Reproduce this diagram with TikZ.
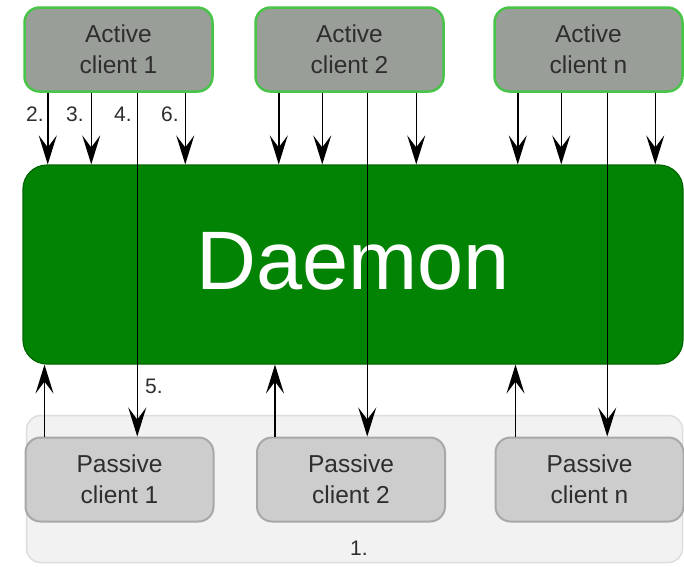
\documentclass[tikz,border=0pt]{standalone}
\usepackage{fontspec}
\setmainfont{Liberation Sans}
\usetikzlibrary{arrows.meta}
\definecolor{activefill}{HTML}{9A9E98}
\definecolor{activeedge}{HTML}{48C448}
\definecolor{daemonfill}{HTML}{038303}
\definecolor{daemonedge}{HTML}{006800}
\definecolor{passfill}{HTML}{CDCDCD}
\definecolor{passedge}{HTML}{A8A8A8}
\definecolor{bgfill}{HTML}{F2F2F2}
\definecolor{bgedge}{HTML}{DDDDDD}
\definecolor{txt}{HTML}{2E2E2E}
\begin{document}
\begin{tikzpicture}[x=1pt,y=-1pt,
  activebox/.style={draw=activeedge,line width=2.5pt,fill=activefill,rounded corners=15pt,
    minimum width=188pt,minimum height=84pt,inner sep=0pt,text=txt,
    font=\fontsize{24.5}{31}\selectfont,align=center},
  passbox/.style={draw=passedge,line width=2pt,fill=passfill,rounded corners=15pt,
    minimum width=188pt,minimum height=84pt,inner sep=0pt,text=txt,
    font=\fontsize{24.5}{31}\selectfont,align=center},
  daemonbox/.style={draw=daemonedge,line width=1.2pt,fill=daemonfill,rounded corners=24pt,
    minimum width=660pt,minimum height=199pt,inner sep=0pt,text=white,
    font=\fontsize{83}{90}\selectfont},
  bgbox/.style={draw=bgedge,line width=1.5pt,fill=bgfill,rounded corners=14pt,
    minimum width=656pt,minimum height=147pt,inner sep=0pt},
  numlabel/.style={text=txt,font=\fontsize{21}{24}\selectfont,inner sep=0pt},
  arr/.style={-{Stealth[length=29pt,width=18pt,inset=12pt]},line width=1.5pt,black},
]
\useasboundingbox (0,0) rectangle (684,566);
\fill[white] (0,0) rectangle (684,566);

\node[bgbox] (bg) at (354.5,489) {};
\node[passbox] (p1) at (119.5,479.5) {Passive\\client 1};
\node[passbox] (p2) at (351,479.5) {Passive\\client 2};
\node[passbox] (pn) at (589.5,479.5) {Passive\\client n};

\node[daemonbox] (d) at (353,264.5) {\raisebox{7pt}{Daemon}};

\node[activebox] (a1) at (118.5,49.5) {Active\\client 1};
\node[activebox] (a2) at (349.5,49.5) {Active\\client 2};
\node[activebox] (an) at (588.5,49.5) {Active\\client n};

% active -> daemon
\foreach \n in {a1,a2,an}{
  \foreach \o in {24.5,68,162}{
    \draw[arr] ([xshift=\o pt]\n.south west) -- ([xshift=\o pt]\n.south west |- d.north);
  }
}
% active -> passive (through daemon)
\draw[arr] ([xshift=114pt]a1.south west) -- ([xshift=114pt]a1.south west |- p1.north);
\draw[arr] ([xshift=113pt]a2.south west) -- ([xshift=113pt]a2.south west |- p2.north);
\draw[arr] ([xshift=114pt]an.south west) -- ([xshift=114pt]an.south west |- pn.north);
% passive -> daemon
\draw[arr] ([xshift=20pt]p1.north west) -- ([xshift=20pt]p1.north west |- d.south);
\draw[arr] ([xshift=19pt]p2.north west) -- ([xshift=19pt]p2.north west |- d.south);
\draw[arr] ([xshift=21pt]pn.north west) -- ([xshift=21pt]pn.north west |- d.south);

\node[numlabel] (l2) at (35,114) {2.};
\node[numlabel] (l3) at (75,114) {3.};
\node[numlabel] (l4) at (123,114) {4.};
\node[numlabel] (l6) at (170,114) {6.};
\node[numlabel] (l5) at (154,386) {5.};
\node[numlabel] (l1) at (359,548) {1.};
\end{tikzpicture}
\end{document}
